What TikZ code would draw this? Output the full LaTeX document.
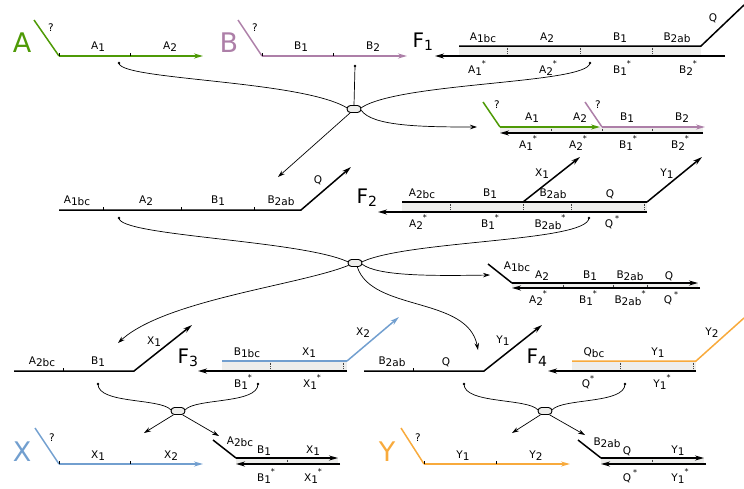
\documentclass[tikz,border=0pt]{standalone}
\usepackage{fontspec}
\setmainfont{DejaVu Sans}
\usetikzlibrary{arrows.meta,shapes.misc}

\definecolor{cA}{HTML}{4E9A06}
\definecolor{cB}{HTML}{AD7FA8}
\definecolor{cX}{HTML}{729FCF}
\definecolor{cY}{HTML}{F8AA3C}
\definecolor{duplex}{HTML}{EEEEEC}

\newcommand\lo[1]{\raisebox{-0.35ex}{#1}}
\newcommand\st{\raisebox{1.1ex}{\footnotesize *}}
\newcommand\labels[3]{\foreach \x/\t [count=\i] in {#3} {\node[lbl] (#1\i) at (\x,#2) {\t};}}

\tikzset{
  strand/.style={line width=1.5pt},
  tip/.style={-{Stealth[length=9pt,width=5pt]}},
  link/.style={line width=0.7pt},
  linkarr/.style={link,-{Stealth[length=7pt,width=4.5pt]}},
  hub/.style={draw,line width=0.9pt,fill=duplex,rounded rectangle,minimum width=14pt,minimum height=7pt,inner sep=0pt},
  lbl/.style={font=\fontsize{10.5}{12}\selectfont,inner sep=1pt},
  big/.style={font=\fontsize{27}{30}\selectfont,inner sep=0pt},
  fname/.style={font=\fontsize{20}{24}\selectfont,inner sep=0pt},
  sep/.style={densely dotted,line width=0.7pt,black!75},
  tick/.style={line width=0.7pt},
}

\begin{document}
\begin{tikzpicture}[x=1pt,y=-1pt]
\useasboundingbox (0,0) rectangle (744,488);

% strand A
\draw[strand,cA] (34,20) -- (59,56);
\draw[strand,cA,tip] (59,56) -- (203,56);
\foreach \x in {59,130} \draw[tick] (\x,56) -- ++(0,-3);
\node[big,cA] (nA) at (22,43) {A};
\node[lbl] (qA) at (51,28) {?};
\labels{a}{47}{98/{A\lo{1}},170/{A\lo{2}}}

% strand B
\draw[strand,cB] (238,20) -- (262,56);
\draw[strand,cB,tip] (262,56) -- (407,56);
\foreach \x in {262,333} \draw[tick] (\x,56) -- ++(0,-3);
\node[big,cB] (nB) at (229,43) {B};
\node[lbl] (qB) at (255,28) {?};
\labels{b}{47}{301/{B\lo{1}},373/{B\lo{2}}}

% F1
\fill[duplex] (459,46) rectangle (701,56);
\foreach \x in {507,580,652} \draw[sep] (\x,46) -- (\x,56);
\draw[strand] (459,46) -- (701,46) -- (744,5);
\draw[strand,tip] (725,56) -- (435,56);
\node[fname] (F1) at (423,42) {F\textsubscript{1}};
\node[lbl] (qF1) at (713,18) {Q};
\labels{f1t}{38}{483/{A\lo{1bc}},547/{A\lo{2}},620/{B\lo{1}},677/{B\lo{2ab}}}
\labels{f1b}{68}{477/{A\lo{1}\st},548/{A\lo{2}\st},622/{B\lo{1}\st},688/{B\lo{2}\st}}

% first ligation product
\fill[duplex] (500,127) rectangle (703,133);
\foreach \x in {551,602,652} \draw[sep] (\x,127) -- (\x,133);
\draw[strand,cA] (483,102) -- (500,127);
\draw[strand,cA,tip] (500,127) -- (600,127);
\draw[strand,cB] (585,102) -- (602,127);
\draw[strand,cB,tip] (602,127) -- (705,127);
\draw[strand,tip] (703,133) -- (500,133);
\node[lbl] (qp1a) at (497,105) {?};
\node[lbl] (qp1b) at (598,105) {?};
\labels{p1t}{118}{532/{A\lo{1}},580/{A\lo{2}},627/{B\lo{1}},682/{B\lo{2}}}
\labels{p1b}{143}{528/{A\lo{1}\st},578/{A\lo{2}\st},628/{B\lo{1}\st},680/{B\lo{2}\st}}

% hub 1
\node[hub] (hub1) at (354,109) {};
\coordinate (dA) at (119,63);
\coordinate (dB) at (355,66);
\coordinate (dF1) at (590,63);
\coordinate (tS2) at (278,177);
\coordinate (tP1) at (477,127);
\foreach \d in {dA,dB,dF1} \fill (\d) circle (1.3pt);
\draw[link] (dA) .. controls (119,80) and (300,80) .. (hub1.170);
\draw[link] (dB) -- (hub1.north);
\draw[link] (dF1) .. controls (588,84) and (400,82) .. (hub1.10);
\draw[linkarr] (hub1.225) -- (tS2);
\draw[linkarr] (hub1.-10) .. controls (372,126) and (420,127) .. (tP1);

% strand 2
\draw[strand,tip] (59,210) -- (301,210) -- (351,167);
\foreach \x in {103,181,254} \draw[tick] (\x,210) -- ++(0,-3);
\labels{s2}{201}{77/{A\lo{1bc}},146/{A\lo{2}},218/{B\lo{1}},281/{B\lo{2ab}}}
\node[lbl] (qS2) at (318,180) {Q};

% F2
\fill[duplex] (402,202) rectangle (647,212);
\foreach \x in {450,523,571,644} \draw[sep] (\x,202) -- (\x,212);
\draw[strand] (402,202) -- (647,202);
\draw[strand,tip] (523,202) -- (580,157);
\draw[strand,tip] (647,202) -- (702,157);
\draw[strand,tip] (647,212) -- (378,212);
\node[fname] (F2) at (367,198) {F\textsubscript{2}};
\labels{f2t}{194}{422/{A\lo{2bc}},490/{B\lo{1}},553/{B\lo{2ab}},610/{Q}}
\node[lbl] (xF2) at (542,174) {X\lo{1}};
\node[lbl] (yF2) at (667,174) {Y\lo{1}};
\labels{f2b}{222}{418/{A\lo{2}\st},490/{B\lo{1}\st},550/{B\lo{2ab}\st},612/{Q\hspace{2pt}\st}}

% second ligation product
\fill[duplex] (512,283) rectangle (698,288);
\foreach \x in {563,613,647} \draw[sep] (\x,283) -- (\x,288);
\draw[strand] (488,264) -- (512,283);
\draw[strand,tip] (512,283) -- (698,283);
\draw[strand,tip] (700,288) -- (512,288);
\node[lbl] (p2a) at (517,267) {A\lo{1bc}};
\labels{p2t}{276}{542/{A\lo{2}},590/{B\lo{1}},630/{B\lo{2ab}},669/{Q}}
\labels{p2b}{298}{538/{A\lo{2}\st},588/{B\lo{1}\st},630/{B\lo{2ab}\st},671/{Q\hspace{2pt}\st}}

% hub 2
\node[hub] (hub2) at (355,263) {};
\coordinate (dS2) at (119,218);
\coordinate (dF2) at (589,218);
\coordinate (tP2) at (490,275);
\coordinate (tS3) at (118,343);
\coordinate (tS4) at (478,350);
\foreach \d in {dS2,dF2} \fill (\d) circle (1.3pt);
\draw[link] (dS2) .. controls (119,236) and (300,240) .. (hub2.170);
\draw[link] (dF2) .. controls (587,242) and (410,240) .. (hub2.10);
\draw[linkarr] (hub2.-10) .. controls (378,276) and (430,276) .. (tP2);
\draw[linkarr] (hub2.200) .. controls (300,285) and (165,300) .. (tS3);
\draw[linkarr] (hub2.-60) .. controls (372,312) and (468,296) .. (tS4);

% strand 3
\draw[strand,tip] (14,371) -- (134,371) -- (192,325);
\draw[tick] (63,371) -- ++(0,-3);
\labels{s3}{362}{42/{A\lo{2bc}},98/{B\lo{1}}}
\node[lbl] (xS3) at (154,342) {X\lo{1}};

% F3
\fill[duplex] (222,361) rectangle (347,371);
\foreach \x in {270,343} \draw[sep] (\x,361) -- (\x,371);
\draw[strand,cX] (222,361) -- (347,361);
\draw[strand,cX,tip] (347,361) -- (399,317);
\draw[strand,tip] (347,371) -- (198,371);
\node[fname] (F3) at (188,358) {F\textsubscript{3}};
\labels{f3t}{353}{247/{B\lo{1bc}},309/{X\lo{1}}}
\node[lbl] (xF3) at (363,333) {X\lo{2}};
\labels{f3b}{382}{243/{B\lo{1}\st},312/{X\lo{1}\st}}

% strand X
\draw[strand,cX] (35,428) -- (59,464);
\draw[strand,cX,tip] (59,464) -- (203,464);
\foreach \x in {59,130} \draw[tick] (\x,464) -- ++(0,-3);
\node[big,cX] (nX) at (22,452) {X};
\node[lbl] (qX) at (52,438) {?};
\labels{x}{456}{98/{X\lo{1}},171/{X\lo{2}}}

% third ligation product
\fill[duplex] (236,458) rectangle (338,464);
\draw[sep] (287,458) -- (287,464);
\draw[strand] (213,440) -- (236,458);
\draw[strand,tip] (236,458) -- (338,458);
\draw[strand,tip] (340,464) -- (236,464);
\node[lbl] (pxa) at (240,442) {A\lo{2bc}};
\labels{pxt}{451}{264/{B\lo{1}},313/{X\lo{1}}}
\labels{pxb}{476}{266/{B\lo{1}\st},313/{X\lo{1}\st}}

% hub 3
\node[hub] (hub3) at (178,411) {};
\coordinate (dS3) at (98,384);
\coordinate (dF3) at (258,384);
\coordinate (tX) at (144,433);
\coordinate (tPX) at (219,436);
\foreach \d in {dS3,dF3} \fill (\d) circle (1.3pt);
\draw[link] (dS3) .. controls (98,404) and (160,398) .. (hub3.170);
\draw[link] (dF3) .. controls (258,404) and (196,398) .. (hub3.10);
\draw[linkarr] (hub3.220) -- (tX);
\draw[linkarr] (hub3.-40) -- (tPX);

% strand 4
\draw[strand,tip] (364,371) -- (484,371) -- (542,325);
\draw[tick] (413,371) -- ++(0,-3);
\labels{s4}{362}{392/{B\lo{2ab}},446/{Q}}
\node[lbl] (yS4) at (503,341) {Y\lo{1}};

% F4
\fill[duplex] (572,361) rectangle (696,371);
\foreach \x in {620,693} \draw[sep] (\x,361) -- (\x,371);
\draw[strand,cY] (572,361) -- (696,361) -- (744,318);
\draw[strand,tip] (696,371) -- (548,371);
\node[fname] (F4) at (537,358) {F\textsubscript{4}};
\labels{f4t}{353}{594/{Q\lo{bc}},658/{Y\lo{1}}}
\node[lbl] (yF4) at (712,333) {Y\lo{2}};
\labels{f4b}{382}{588/{Q\st},662/{Y\lo{1}\st}}

% strand Y
\draw[strand,cY] (401,428) -- (424,464);
\draw[strand,cY,tip] (424,464) -- (570,464);
\foreach \x in {424,496} \draw[tick] (\x,464) -- ++(0,-3);
\node[big,cY] (nY) at (387,452) {Y};
\node[lbl] (qY) at (418,438) {?};
\labels{y}{456}{463/{Y\lo{1}},536/{Y\lo{2}}}

% fourth ligation product
\fill[duplex] (601,458) rectangle (704,464);
\draw[sep] (652,458) -- (652,464);
\draw[strand] (578,440) -- (601,458);
\draw[strand,tip] (601,458) -- (704,458);
\draw[strand,tip] (706,464) -- (601,464);
\node[lbl] (pya) at (607,443) {B\lo{2ab}};
\labels{pyt}{451}{627/{Q},678/{Y\lo{1}}}
\labels{pyb}{476}{630/{Q\hspace{2pt}\st},680/{Y\lo{1}\st}}

% hub 4
\node[hub] (hub4) at (545,411) {};
\coordinate (dS4) at (464,384);
\coordinate (dF4) at (625,384);
\coordinate (tY) at (512,433);
\coordinate (tPY) at (585,435);
\foreach \d in {dS4,dF4} \fill (\d) circle (1.3pt);
\draw[link] (dS4) .. controls (464,404) and (527,398) .. (hub4.170);
\draw[link] (dF4) .. controls (625,404) and (563,398) .. (hub4.10);
\draw[linkarr] (hub4.220) -- (tY);
\draw[linkarr] (hub4.-40) -- (tPY);
\end{tikzpicture}
\end{document}
